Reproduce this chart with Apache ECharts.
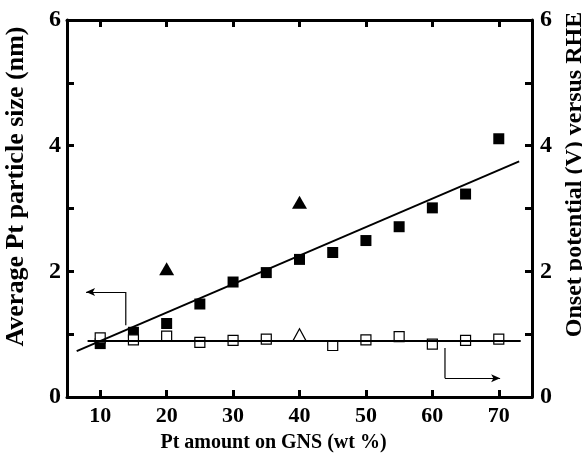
<!DOCTYPE html>
<html>
<head>
<meta charset="utf-8">
<script src="https://cdn.jsdelivr.net/npm/echarts@6/dist/echarts.min.js"></script>
<style>
html,body{margin:0;padding:0;background:#fff;}
#c{width:582px;height:457px;}
</style>
</head>
<body>
<div id="c"></div>
<script>
var xTicks = [10, 20, 30, 40, 50, 60, 70];
var yTicks = [0, 2, 4, 6];
var yMinorTicks = [1, 2, 3, 4, 5];
var sizeX = [10, 15, 20, 25, 30, 35, 40, 45, 50, 55, 60, 65, 70];
var sizeY = [0.85, 1.03, 1.17, 1.48, 1.83, 1.98, 2.19, 2.30, 2.49, 2.71, 3.01, 3.23, 4.11];
var triX = [20, 40];
var triY = [2.04, 3.10];
var onsetX = [10, 15, 20, 25, 30, 35, 45, 50, 55, 60, 65, 70];
var onsetY = [0.94, 0.91, 0.97, 0.87, 0.90, 0.92, 0.82, 0.91, 0.96, 0.84, 0.90, 0.92];
var onsetTriX = [40];
var onsetTriY = [0.99];
var fitLine = [[6.46, 0.73], [73.07, 3.75]];
var flatLine = [[8.1, 0.89], [73.3, 0.89]];
var leftArrow = [[13.85, 1.14], [13.85, 1.67], [7.87, 1.67]];
var rightArrow = [[61.9, 0.78], [61.9, 0.30], [70.2, 0.30]];

var X_MIN = 5, X_MAX = 75, Y_MIN = 0, Y_MAX = 6;

function pairs(xs, ys){ return xs.map(function(x,i){ return [x, ys[i]]; }); }

var font = '"Liberation Serif", "Times New Roman", serif';
function axLine(){ return {show:true, onZero:false, lineStyle:{color:'#000', width:3}}; }
function axTick(custom){
  var t = {show:true, inside:true, length:7, lineStyle:{color:'#000', width:3}};
  if (custom) t.customValues = custom;
  return t;
}
function yFmt(v){ return yTicks.indexOf(v) >= 0 ? String(v) : ''; }

// inside tick marks drawn in data space (lengths ~7px)
var tx = 7 * (X_MAX - X_MIN) / 465, ty = 7 * (Y_MAX - Y_MIN) / 377;
var tickSegs = [];
xTicks.forEach(function(x){
  tickSegs.push([{coord:[x, Y_MIN]}, {coord:[x, Y_MIN + ty]}]);
  tickSegs.push([{coord:[x, Y_MAX]}, {coord:[x, Y_MAX - ty]}]);
});
yMinorTicks.forEach(function(y){
  tickSegs.push([{coord:[X_MIN, y]}, {coord:[X_MIN + tx, y]}]);
  tickSegs.push([{coord:[X_MAX, y]}, {coord:[X_MAX - tx, y]}]);
});

function arrowSeries(pts){
  var last = pts.length - 1;
  return {
    type:'line', yAxisIndex:0, data: pts.slice(0, last),
    symbol:'none', lineStyle:{color:'#000', width:1.2}, silent:true,
    markLine:{
      silent:true, symbol:['none','arrow'], symbolSize:[6,9],
      label:{show:false},
      lineStyle:{color:'#000', width:1.2, type:'solid'},
      data:[[{coord:pts[last-1]},{coord:pts[last]}]]
    }
  };
}

var chart = echarts.init(document.getElementById('c'));
chart.setOption({
  animation:false,
  grid:{left:67, right:50, top:20, bottom:60, outerBoundsMode:'none'},
  xAxis:[{
    type:'value', position:'bottom', min:X_MIN, max:X_MAX,
    name:'Pt amount on GNS (wt %)', nameLocation:'middle', nameGap:36,
    nameTextStyle:{fontFamily:font, fontWeight:'bold', fontSize:20, color:'#000', padding:[0,52,0,0]},
    axisLine:axLine(), axisTick:axTick(xTicks),
    axisLabel:{show:true, customValues:xTicks, margin:8, fontFamily:font, fontWeight:'bold', fontSize:22, color:'#000'},
    splitLine:{show:false}
  },{
    type:'value', position:'top', min:X_MIN, max:X_MAX,
    axisLine:axLine(), axisTick:axTick(xTicks),
    axisLabel:{show:false},
    splitLine:{show:false}
  }],
  yAxis:[{
    type:'value', position:'left', min:Y_MIN, max:Y_MAX, interval:1,
    name:'Average Pt particle size (nm)', nameLocation:'middle', nameGap:38, nameRotate:90,
    nameTextStyle:{fontFamily:font, fontWeight:'bold', fontSize:26, color:'#000', padding:[0,0,0,44]},
    axisLine:axLine(), axisTick:axTick(null),
    axisLabel:{show:true, margin:6, fontFamily:font, fontWeight:'bold', fontSize:24, color:'#000', formatter:yFmt},
    splitLine:{show:false}
  },{
    type:'value', position:'right', min:Y_MIN, max:Y_MAX, interval:1,
    name:'Onset potential (V) versus RHE', nameLocation:'middle', nameGap:23, nameRotate:90,
    nameTextStyle:{fontFamily:font, fontWeight:'bold', fontSize:24, color:'#000', padding:[0,0,0,68]},
    axisLine:axLine(), axisTick:axTick(null),
    axisLabel:{show:true, margin:8, fontFamily:font, fontWeight:'bold', fontSize:24, color:'#000', formatter:yFmt},
    splitLine:{show:false}
  }],
  series:[
    {type:'line', yAxisIndex:0, data:[], symbol:'none', silent:true,
     markLine:{silent:true, symbol:['none','none'], label:{show:false},
       lineStyle:{color:'#000', width:3, type:'solid'}, data:tickSegs}},
    {type:'line', yAxisIndex:0, data:fitLine, symbol:'none',
     lineStyle:{color:'#000', width:2}, silent:true},
    {type:'line', yAxisIndex:1, data:flatLine, symbol:'none',
     lineStyle:{color:'#000', width:2}, silent:true},
    {type:'scatter', yAxisIndex:0, data:pairs(sizeX, sizeY),
     symbol:'rect', symbolSize:11, itemStyle:{color:'#000', opacity:1}},
    {type:'scatter', yAxisIndex:0, data:pairs(triX, triY),
     symbol:'triangle', symbolSize:[15,13], itemStyle:{color:'#000', opacity:1}},
    {type:'scatter', yAxisIndex:1, data:pairs(onsetX, onsetY),
     symbol:'rect', symbolSize:10, itemStyle:{color:'#fff', borderColor:'#000', borderWidth:1.2, opacity:1}},
    {type:'scatter', yAxisIndex:1, data:pairs(onsetTriX, onsetTriY),
     symbol:'triangle', symbolSize:[13,12], itemStyle:{color:'#fff', borderColor:'#000', borderWidth:1.2, opacity:1}},
    arrowSeries(leftArrow),
    arrowSeries(rightArrow)
  ]
});
</script>
</body>
</html>
